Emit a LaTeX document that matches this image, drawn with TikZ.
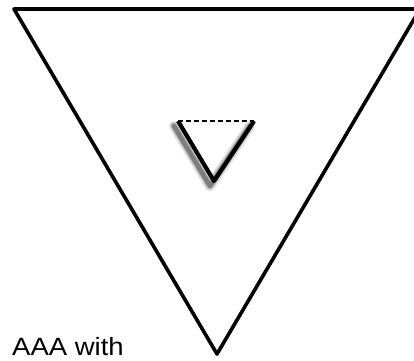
\documentclass[tikz,border=0pt]{standalone}
\usepackage{fontspec}
\setmainfont{Liberation Sans}
\begin{document}
\begin{tikzpicture}[x=1pt,y=-1pt,
  edge/.style={draw=black,line width=3.6pt,line join=round},
  vedge/.style={draw=black,line width=4.2pt,line join=round},
  shade/.style={draw=black,line join=round,line cap=round}]
\useasboundingbox (0,0) rectangle (414,360);
\coordinate (tl) at (14,9);
\coordinate (tr) at (420,9);
\coordinate (ap) at (217,354);
\draw[edge] (tl) -- (tr) -- (ap) -- cycle;
% inner V
\coordinate (il) at (178,121);
\coordinate (ir) at (254,121);
\coordinate (ia) at (214,181);
\foreach \w/\o in {11/0.07,8.5/0.1,6.5/0.16,4.5/0.3}{
  \draw[shade,line width=\w pt,opacity=\o] ([shift={(-4,5)}]il) -- ([shift={(-4,5)}]ia) -- ([shift={(-4,5)}]ir);
}
\draw[vedge] (il) -- (ia) -- (ir);
\draw[black,line width=1.8pt,dashed,dash pattern=on 5pt off 3pt] (il) -- (ir);
\node[anchor=base west,inner sep=0pt,font=\fontsize{25}{30}\selectfont,xscale=1.1] (lbl) at (12,355) {AAA with};
\end{tikzpicture}
\end{document}
